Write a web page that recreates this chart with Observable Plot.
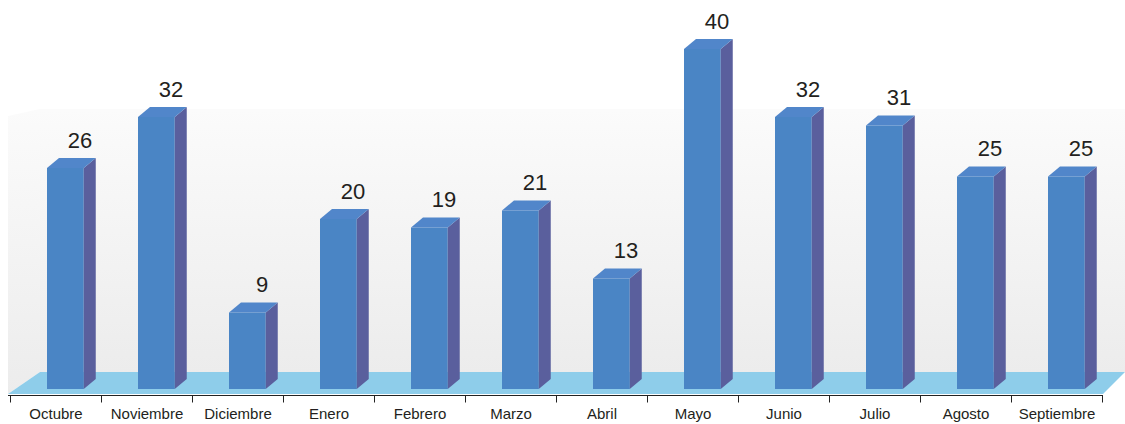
<!DOCTYPE html>
<html><head><meta charset="utf-8">
<script src="https://cdn.jsdelivr.net/npm/d3@7"></script>
<script src="https://cdn.jsdelivr.net/npm/@observablehq/plot@0.6"></script>
<style>body{margin:0;background:#fff} svg{display:block}</style>
</head><body><div id="chart"></div>
<script>
const months = ["Octubre","Noviembre","Diciembre","Enero","Febrero","Marzo","Abril","Mayo","Junio","Julio","Agosto","Septiembre"];
const values = [26,32,9,20,19,21,13,40,32,31,25,25];
const data = months.map((m, i) => ({month: m, value: values[i]}));

const NS = "http://www.w3.org/2000/svg";
function el(tag, attrs = {}) {
  const e = document.createElementNS(NS, tag);
  for (const k in attrs) e.setAttribute(k, attrs[k]);
  return e;
}
const INSET_L = 37, INSET_R = 17.25, DEPTH_X = 12, DEPTH_Y = 10;
function bw(x, dims) {
  if (x && typeof x.bandwidth === "function") return x.bandwidth();
  if (x && typeof x.bandwidth === "number") return x.bandwidth;
  return (dims.width - dims.marginLeft - dims.marginRight) / months.length;
}

// background: walls, floor, axis line and ticks
function decor(index, scales, vals, dims) {
  const g = el("g");
  const {width, height, marginLeft, marginRight, marginBottom} = dims;
  const x0 = marginLeft, x1 = width - marginRight;
  const base = height - marginBottom;
  const floorBot = base + 5, floorTop = base - 17;
  const wallTop = 109;
  const defs = el("defs");
  const lg = el("linearGradient", {id: "wallgrad", x1: 0, y1: 0, x2: 0, y2: 1});
  lg.appendChild(el("stop", {offset: "0%", "stop-color": "#fbfbfb"}));
  lg.appendChild(el("stop", {offset: "100%", "stop-color": "#ececec"}));
  defs.appendChild(lg);
  g.appendChild(defs);
  g.appendChild(el("polygon", {points: `${x0},${wallTop+7} ${x0+32},${wallTop} ${x0+32},${floorTop} ${x0},${floorBot}`, fill: "url(#wallgrad)"}));
  g.appendChild(el("rect", {x: x0 + 32, y: wallTop, width: width - x0 - 32, height: floorTop - wallTop, fill: "url(#wallgrad)"}));
  g.appendChild(el("polygon", {points: `${x0},${floorBot} ${x0+32},${floorTop} ${width},${floorTop} ${x1},${floorBot}`, fill: "#8ecdea"}));
  const ay = floorBot + 1.5;
  g.appendChild(el("line", {x1: x0, x2: x1, y1: ay, y2: ay, stroke: "#222", "stroke-width": 1}));
  const x = scales.x, w = bw(x, dims);
  const edges = months.map(m => x(m)).concat([x(months[months.length - 1]) + w]);
  for (const ex of edges) {
    const px = Math.round(ex) + 0.5;
    g.appendChild(el("line", {x1: px, x2: px, y1: ay, y2: ay + 7, stroke: "#222", "stroke-width": 1}));
  }
  return g;
}

// 3D side and top faces of the bars
function faces(index, scales, vals, dims) {
  const g = el("g");
  const x = scales.x, y = scales.y, w = bw(x, dims);
  for (const d of data) {
    const fx1 = x(d.month) + INSET_L, fx2 = x(d.month) + w - INSET_R;
    const yt = y(d.value), yb = y(0);
    g.appendChild(el("polygon", {points: `${fx2},${yt} ${fx2+DEPTH_X},${yt-DEPTH_Y} ${fx2+DEPTH_X},${yb-DEPTH_Y} ${fx2},${yb}`, fill: "#5a5f9d"}));
    g.appendChild(el("polygon", {points: `${fx1},${yt} ${fx1+DEPTH_X},${yt-DEPTH_Y} ${fx2+DEPTH_X},${yt-DEPTH_Y} ${fx2},${yt}`, fill: "#5186ca"}));
  }
  return g;
}

const chart = Plot.plot({
  width: 1125,
  height: 424,
  marginLeft: 8,
  marginRight: 22,
  marginTop: 0,
  marginBottom: 35,
  style: {fontFamily: "'Liberation Sans', Arial, sans-serif", background: "#fff"},
  x: {type: "band", domain: months, padding: 0, axis: null},
  y: {domain: [0, 45.76], axis: null},
  marks: [
    decor,
    Plot.barY(data, {x: "month", y: "value", fill: "#4a85c5", insetLeft: INSET_L, insetRight: INSET_R}),
    faces,
    Plot.text(data, {x: "month", y: "value", text: d => String(d.value), dx: 24, dy: -28, fontSize: 22, fill: "#231f20"}),
    Plot.text(months, {x: d => d, text: d => d, frameAnchor: "bottom", dy: 29, fontSize: 15, fill: "#231f20"})
  ]
});
document.getElementById("chart").appendChild(chart);
</script>
</body></html>
